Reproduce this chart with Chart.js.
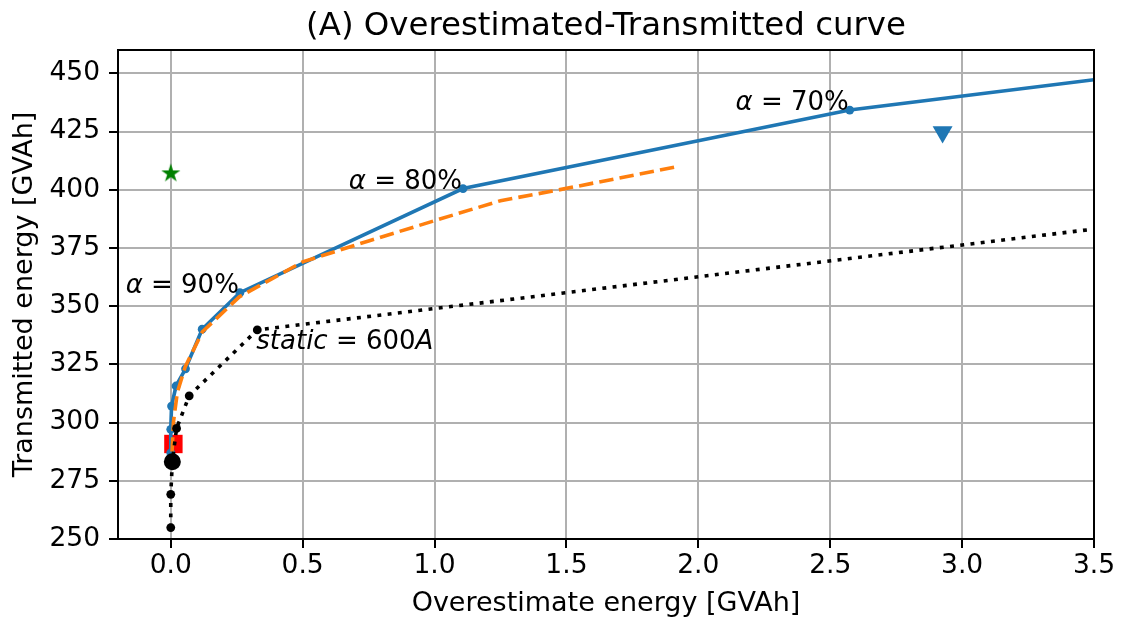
<!DOCTYPE html>
<html>
<head>
<meta charset="utf-8">
<script src="https://cdn.jsdelivr.net/npm/chart.js@4/dist/chart.umd.min.js"></script>
<style>
  html, body { margin: 0; padding: 0; background: #ffffff; }
  #wrap { width: 1128px; height: 624px; }
</style>
</head>
<body>
<div id="wrap"><canvas id="chart" width="1128" height="624"></canvas></div>
<script>
// Axis ticks
const xTicks = [0.0, 0.5, 1.0, 1.5, 2.0, 2.5, 3.0, 3.5];
const yTicks = [250, 275, 300, 325, 350, 375, 400, 425, 450];

// Dynamic rating curve (alpha sweep)
const alphaX = [0.0, 0.0, 0.003, 0.02, 0.056, 0.119, 0.262, 1.108, 2.574, 3.5];
const alphaY = [287.0, 297.1, 307.1, 315.7, 323.1, 340.1, 355.8, 400.5, 434.2, 447.2];

// Smoothed estimate
const fitX = [0.005, 0.01, 0.025, 0.055, 0.12, 0.26, 0.5, 0.75, 1.0, 1.25, 1.47, 1.92];
const fitY = [287.5, 300.0, 313.0, 324.0, 339.0, 354.0, 369.0, 378.0, 386.7, 395.3, 399.9, 409.9];

// Static rating sweep
const staticX = [0.0, 0.0, 0.006, 0.022, 0.07, 0.328, 3.5];
const staticY = [254.9, 269.2, 283.2, 297.5, 311.5, 339.8, 383.1];

// Single reference points
const baseX = [0.006], baseY = [283.2];
const squareX = [0.010], squareY = [290.8];
const starX = [0.0], starY = [407.0];
const triX = [2.926], triY = [424.8];

// Curve annotations
const noteText = ['α = 70%', 'α = 80%', 'α = 90%', 'static = 600A'];
const noteX = [2.574, 1.108, 0.262, 0.328];
const noteY = [434.2, 400.5, 355.8, 339.8];
const noteAlign = ['right', 'right', 'right', 'left'];

const TITLE = '(A) Overestimated-Transmitted curve';
const X_MIN = -0.2, X_MAX = 3.5, Y_MIN = 250, Y_MAX = 460;
const FONT = 'DejaVu Sans';

const pts = (xs, ys) => xs.map((x, i) => ({ x: x, y: ys[i] }));

function starImage(R, color) {
  const s = Math.ceil(2 * R) + 2;
  const c = document.createElement('canvas');
  c.width = s; c.height = s;
  const g = c.getContext('2d');
  g.fillStyle = color;
  g.beginPath();
  for (let k = 0; k < 10; k++) {
    const r = k % 2 ? R * 0.382 : R;
    const a = -Math.PI / 2 + k * Math.PI / 5;
    const px = s / 2 + r * Math.cos(a), py = s / 2 + r * Math.sin(a);
    if (k) g.lineTo(px, py); else g.moveTo(px, py);
  }
  g.closePath();
  g.fill();
  return c;
}

// Letters in italic, digits and symbols upright
function drawMath(ctx, text, x, y, align, size) {
  const runs = text.match(/[A-Za-z\u03b1-\u03c9]+|[^A-Za-z\u03b1-\u03c9]+/g);
  const fontFor = r => (/[A-Za-z\u03b1-\u03c9]/.test(r) ? 'oblique ' : '') + size + 'px "' + FONT + '"';
  let total = 0;
  runs.forEach(r => { ctx.font = fontFor(r); total += ctx.measureText(r).width; });
  let cx = align === 'right' ? x - total : x;
  ctx.textAlign = 'left';
  runs.forEach(r => {
    ctx.font = fontFor(r);
    ctx.fillText(r, cx, y);
    cx += ctx.measureText(r).width;
  });
}

// Title over the plot area, frame on all four sides, curve labels
const framePlugin = {
  id: 'frame',
  afterDraw(chart) {
    const { ctx, chartArea: a, scales } = chart;
    ctx.save();
    ctx.strokeStyle = '#000';
    ctx.lineWidth = 2;
    ctx.strokeRect(a.left, a.top, a.right - a.left, a.bottom - a.top);

    ctx.fillStyle = '#000';
    ctx.textBaseline = 'alphabetic';
    ctx.textAlign = 'center';
    ctx.font = '32.4px "' + FONT + '"';
    ctx.fillText(TITLE, (a.left + a.right) / 2, a.top - 15.5);

    noteText.forEach((t, i) => {
      const px = scales.x.getPixelForValue(noteX[i]);
      const py = scales.y.getPixelForValue(noteY[i]);
      if (noteAlign[i] === 'right') drawMath(ctx, t, px - 1, py, 'right', 26);
      else drawMath(ctx, t, px - 1, py + 19.5, 'left', 26);
    });
    ctx.restore();
  }
};

Chart.defaults.font.family = FONT;
Chart.defaults.color = '#000';

const edgeless = ctx => (ctx.raw && ctx.raw.x >= X_MAX ? 0 : 4.4);

new Chart(document.getElementById('chart'), {
  type: 'scatter',
  data: {
    datasets: [
      {
        label: 'alpha', data: pts(alphaX, alphaY), showLine: true, tension: 0,
        borderColor: '#1f77b4', backgroundColor: '#1f77b4', borderWidth: 3.6,
        pointRadius: edgeless, pointBorderWidth: 0, pointBackgroundColor: '#1f77b4', order: 6
      },
      {
        label: 'fit', data: pts(fitX, fitY), showLine: true, tension: 0,
        borderColor: '#ff7f0e', borderWidth: 3.6, borderDash: [14.4, 6.2],
        pointRadius: 0, order: 5
      },
      {
        label: 'static', data: pts(staticX, staticY), showLine: true, tension: 0,
        borderColor: '#000', backgroundColor: '#000', borderWidth: 3.6, borderDash: [3.9, 6.4],
        pointRadius: edgeless, pointBorderWidth: 0, pointBackgroundColor: '#000', order: 4
      },
      {
        label: 'base', data: pts(baseX, baseY), showLine: false,
        pointRadius: 8.5, pointBorderWidth: 0, pointBackgroundColor: '#000', order: 3
      },
      {
        label: 'square', data: pts(squareX, squareY), showLine: false,
        pointStyle: 'rect', pointRadius: 13, pointBorderWidth: 0, pointBackgroundColor: '#ff0000', order: 7
      },
      {
        label: 'star', data: pts(starX, starY), showLine: false,
        pointStyle: starImage(10, '#008000'), pointRadius: 10, order: 2
      },
      {
        label: 'triangle', data: pts(triX, triY), showLine: false,
        pointStyle: 'triangle', rotation: 180, pointRadius: 11.5, pointBorderWidth: 0,
        pointBackgroundColor: '#1f77b4', order: 1
      }
    ]
  },
  options: {
    responsive: false,
    animation: false,
    events: [],
    layout: { padding: { top: 50, right: 34, bottom: 0, left: 0 } },
    plugins: {
      legend: { display: false },
      tooltip: { enabled: false },
      title: { display: false }
    },
    scales: {
      x: {
        type: 'linear', min: X_MIN, max: X_MAX,
        afterBuildTicks: s => { s.ticks = xTicks.map(v => ({ value: v })); },
        afterFit: s => { s.height = 85; },
        ticks: { font: { size: 26.5 }, color: '#000', padding: 2, maxRotation: 0,
                 callback: v => Number(v).toFixed(1) },
        grid: { color: '#b0b0b0', lineWidth: 2, tickColor: '#000', tickLength: 9, tickWidth: 2 },
        border: { display: true, color: '#000', width: 2 },
        title: { display: true, text: 'Overestimate energy [GVAh]', font: { size: 27 },
                 color: '#000', padding: { top: 0, bottom: 4 } }
      },
      y: {
        type: 'linear', min: Y_MIN, max: Y_MAX,
        afterBuildTicks: s => { s.ticks = yTicks.map(v => ({ value: v })); },
        afterFit: s => { s.width = 118; },
        ticks: { font: { size: 26.5 }, color: '#000', padding: 9,
                 callback: v => String(v) },
        grid: { color: '#b0b0b0', lineWidth: 2, tickColor: '#000', tickLength: 9, tickWidth: 2 },
        border: { display: true, color: '#000', width: 2 },
        title: { display: true, text: 'Transmitted energy [GVAh]', font: { size: 27 },
                 color: '#000', padding: { top: 9, bottom: 0 } }
      }
    }
  },
  plugins: [framePlugin]
});
</script>
</body>
</html>
